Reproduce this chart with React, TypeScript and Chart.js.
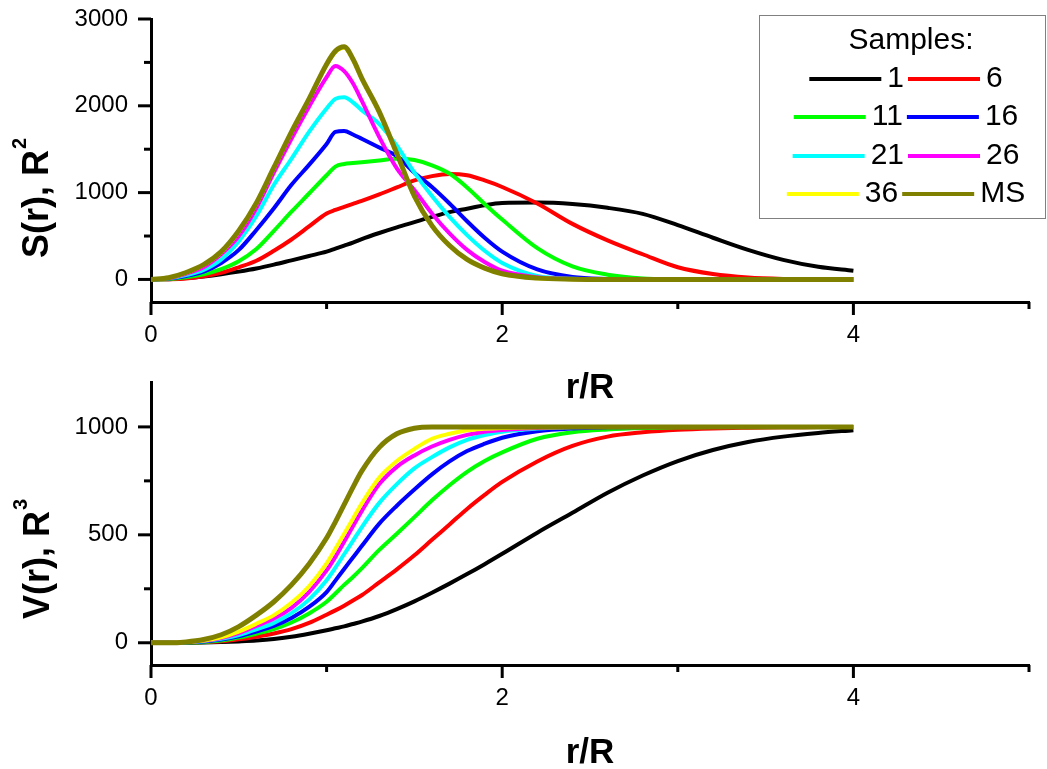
import React, { useEffect, useRef } from "react";
import { Chart, registerables } from "chart.js";

Chart.register(...registerables);

const FONT = '"Liberation Sans", Arial, sans-serif';

// r/R sample positions
const rGrid = [0, 0.1, 0.2, 0.3, 0.4, 0.5, 0.6, 0.7, 0.8, 0.9, 1.0, 1.05, 1.1, 1.15, 1.2, 1.3, 1.4, 1.5, 1.6, 1.7, 1.8, 1.9, 2.0, 2.2, 2.4, 2.6, 2.8, 3.0, 3.2, 3.4, 3.6, 3.8, 4.0];

const seriesLabels = ["1", "6", "11", "16", "21", "26", "36", "MS"];
const seriesColors = ["#000000", "#ff0000", "#00ff00", "#0000ff", "#00ffff", "#ff00ff", "#ffff00", "#808000"];

// S(r), R^2
const s1 = [0, 3, 15, 35, 60, 90, 125, 170, 220, 270, 320, 355, 390, 425, 465, 535, 600, 660, 720, 775, 815, 855, 880, 885, 868, 825, 755, 625, 480, 340, 225, 145, 100];
const s6 = [0, 3, 12, 35, 75, 140, 215, 330, 460, 610, 760, 800, 835, 870, 905, 980, 1060, 1140, 1190, 1215, 1200, 1140, 1065, 875, 640, 450, 290, 140, 62, 22, 6, 2, 0];
const s11 = [0, 6, 25, 60, 120, 210, 350, 560, 780, 990, 1200, 1300, 1330, 1340, 1350, 1370, 1390, 1375, 1315, 1220, 1060, 870, 690, 360, 150, 55, 12, 3, 0, 0, 0, 0, 0];
const s16 = [0, 10, 40, 90, 190, 340, 570, 820, 1090, 1320, 1560, 1700, 1710, 1670, 1620, 1520, 1420, 1230, 1065, 875, 670, 480, 320, 115, 28, 5, 0, 0, 0, 0, 0, 0, 0];
const s21 = [0, 12, 50, 110, 230, 440, 730, 1090, 1390, 1700, 1970, 2080, 2100, 2040, 1950, 1790, 1540, 1230, 960, 720, 510, 330, 190, 40, 8, 0, 0, 0, 0, 0, 0, 0, 0];
const s26 = [0, 15, 65, 140, 290, 500, 820, 1230, 1620, 1990, 2330, 2460, 2400, 2260, 2060, 1640, 1280, 1030, 760, 530, 340, 200, 100, 25, 5, 0, 0, 0, 0, 0, 0, 0, 0];
const s36 = [0, 18, 76, 165, 312, 552, 872, 1282, 1692, 2072, 2470, 2620, 2670, 2530, 2312, 1922, 1442, 952, 614, 385, 226, 127, 63, 14, 3, 0, 0, 0, 0, 0, 0, 0, 0];
const sMS = [0, 20, 80, 170, 320, 560, 880, 1290, 1700, 2080, 2480, 2630, 2680, 2540, 2320, 1930, 1450, 960, 620, 390, 230, 130, 65, 15, 3, 0, 0, 0, 0, 0, 0, 0, 0];

// V(r), R^3
const v1 = [0, 0, 0, 1, 3, 6, 10, 17, 28, 42, 58, 67, 76, 87, 98, 124, 156, 192, 232, 274, 318, 364, 412, 510, 602, 695, 775, 842, 893, 930, 955, 972, 985];
const v6 = [0, 0, 1, 3, 7, 16, 28, 43, 63, 92, 130, 150, 172, 196, 220, 280, 340, 405, 477, 548, 620, 685, 745, 840, 912, 955, 975, 987, 993, 996, 998, 999, 1000];
const v11 = [0, 0, 1, 4, 11, 24, 42, 63, 94, 136, 190, 228, 268, 305, 345, 430, 505, 582, 660, 730, 792, 842, 882, 945, 975, 988, 995, 998, 1000, 1000, 1000, 1000, 1000];
const v16 = [0, 0, 2, 6, 15, 30, 52, 78, 115, 166, 235, 288, 342, 395, 448, 552, 635, 710, 780, 840, 888, 922, 950, 980, 993, 998, 1000, 1000, 1000, 1000, 1000, 1000, 1000];
const v21 = [0, 0, 2, 8, 18, 36, 62, 92, 137, 200, 290, 348, 410, 472, 535, 648, 735, 808, 860, 905, 940, 962, 978, 992, 998, 1000, 1000, 1000, 1000, 1000, 1000, 1000, 1000];
const v26 = [0, 0, 3, 9, 22, 45, 78, 112, 162, 235, 335, 398, 468, 540, 610, 735, 815, 868, 909, 940, 963, 978, 986, 995, 999, 1000, 1000, 1000, 1000, 1000, 1000, 1000, 1000];
const v36 = [0, 0, 3, 10, 25, 52, 88, 128, 185, 262, 368, 435, 505, 575, 645, 765, 842, 898, 945, 968, 984, 991, 995, 998, 1000, 1000, 1000, 1000, 1000, 1000, 1000, 1000, 1000];
const vMS = [0, 0, 4, 15, 37, 75, 128, 190, 268, 365, 485, 560, 640, 720, 795, 905, 968, 994, 1000, 1000, 1000, 1000, 1000, 1000, 1000, 1000, 1000, 1000, 1000, 1000, 1000, 1000, 1000];

const sSeries = [s1, s6, s11, s16, s21, s26, s36, sMS];
const vSeries = [v1, v6, v11, v16, v21, v26, v36, vMS];

// ticks
const xMajorTicks = [0, 2, 4];
const xMinorTicks = [1, 3, 5];
const sMajorTicks = [0, 1000, 2000, 3000];
const sMinorTicks = [500, 1500, 2500];
const vMajorTicks = [0, 500, 1000];
const vMinorTicks = [250, 750];

const xTitle = "r/R";
const sTitle = ["S(r), R", "2"];
const vTitle = ["V(r), R", "3"];
const legendTitle = "Samples:";

type PanelCfg = {
  series: number[][];
  yMin: number;
  yMax: number;
  yMajor: number[];
  yMinor: number[];
  yTitle: string[];
  yTitleX: number;
  yTitleStartY: number;
  height: number;
  areaTop: number;
  areaBottom: number;
  xTitlePadBottom: number;
  legend: boolean;
};

function buildChart(canvas: HTMLCanvasElement, cfg: PanelCfg) {
  const datasets = cfg.series.map((arr, i) => ({
    label: seriesLabels[i],
    data: arr.map((y, j) => ({ x: rGrid[j], y })),
    borderColor: seriesColors[i],
    backgroundColor: seriesColors[i],
    borderWidth: i === 7 ? 5 : 4,
    pointRadius: 0,
    fill: false,
    cubicInterpolationMode: "monotone" as const,
    order: 7 - i,
  }));

  const decorPlugin = {
    id: "decor" + (cfg.legend ? "Top" : "Bottom"),
    afterDraw(chart: any) {
      const ctx = chart.ctx as CanvasRenderingContext2D;
      const xs = chart.scales.x;
      const ys = chart.scales.y;
      ctx.save();
      ctx.strokeStyle = "#000";
      ctx.lineWidth = 3;
      ctx.lineCap = "butt";
      const tick = (vals: number[], len: number, horiz: boolean) => {
        vals.forEach((v) => {
          ctx.beginPath();
          if (horiz) {
            const px = xs.getPixelForValue(v);
            ctx.moveTo(px, xs.top);
            ctx.lineTo(px, xs.top + len);
          } else {
            const py = ys.getPixelForValue(v);
            ctx.moveTo(ys.right, py);
            ctx.lineTo(ys.right - len, py);
          }
          ctx.stroke();
        });
      };
      tick(xMajorTicks, 13, true);
      tick(xMinorTicks, 7, true);
      tick(cfg.yMajor, 13, false);
      tick(cfg.yMinor, 7, false);

      // y-axis title with superscript
      ctx.fillStyle = "#000";
      ctx.translate(cfg.yTitleX, cfg.yTitleStartY);
      ctx.rotate(-Math.PI / 2);
      ctx.textAlign = "left";
      ctx.textBaseline = "alphabetic";
      ctx.font = `bold 36px ${FONT}`;
      ctx.fillText(cfg.yTitle[0], 0, 0);
      const w = ctx.measureText(cfg.yTitle[0]).width;
      ctx.font = `bold 20px ${FONT}`;
      ctx.fillText(cfg.yTitle[1], w + 1, -22);
      ctx.restore();

      if (cfg.legend) {
        ctx.save();
        ctx.strokeStyle = "#808080";
        ctx.lineWidth = 1;
        ctx.strokeRect(759.5, 15.5, 286, 203);
        ctx.fillStyle = "#000";
        ctx.font = `30px ${FONT}`;
        ctx.textBaseline = "middle";
        ctx.textAlign = "center";
        ctx.fillText(legendTitle, 911, 41);
        ctx.textAlign = "left";
        const rowY = [79, 117, 156, 194];
        const lineLen = 72;
        for (let r = 0; r < 4; r++) {
          const a = r * 2;
          const b = a + 1;
          const wa = ctx.measureText(seriesLabels[a]).width;
          const wb = ctx.measureText(seriesLabels[b]).width;
          const total = lineLen + 6 + wa + 4 + lineLen + 6 + wb;
          let x = 906 - total / 2;
          const y = rowY[r];
          [a, b].forEach((k, idx) => {
            ctx.strokeStyle = seriesColors[k];
            ctx.lineWidth = 4;
            ctx.beginPath();
            ctx.moveTo(x, y);
            ctx.lineTo(x + lineLen, y);
            ctx.stroke();
            x += lineLen + 6;
            ctx.fillStyle = "#000";
            ctx.fillText(seriesLabels[k], x, y);
            x += (idx === 0 ? wa : wb) + 4;
          });
        }
        ctx.restore();
      }
    },
  };

  return new Chart(canvas, {
    type: "line",
    data: { datasets },
    options: {
      animation: false,
      responsive: false,
      devicePixelRatio: 1,
      events: [],
      layout: { padding: { left: 0, right: 1047 - 1029, top: cfg.areaTop, bottom: 0 } },
      plugins: { legend: { display: false }, tooltip: { enabled: false } },
      scales: {
        x: {
          type: "linear",
          min: 0,
          max: 5,
          grid: { display: false, drawTicks: false },
          border: { display: true, color: "#000", width: 3 },
          afterBuildTicks: (scale: any) => {
            scale.ticks = [...xMajorTicks, ...xMinorTicks].sort((p, q) => p - q).map((v) => ({ value: v }));
          },
          ticks: {
            autoSkip: false,
            maxRotation: 0,
            padding: 19,
            color: "#000",
            font: { family: FONT, size: 24 },
            callback: (v: any) => (xMajorTicks.includes(Number(v)) ? String(v) : ""),
          },
          title: {
            display: true,
            text: xTitle,
            color: "#000",
            font: { family: FONT, size: 35, weight: "bold" },
            padding: { top: 0, bottom: cfg.xTitlePadBottom },
          },
          afterFit: (scale: any) => {
            scale.height = cfg.height - cfg.areaBottom;
            scale.paddingLeft = 0;
            scale.paddingRight = 0;
          },
        },
        y: {
          type: "linear",
          min: cfg.yMin,
          max: cfg.yMax,
          grid: { display: false, drawTicks: false },
          border: { display: true, color: "#000", width: 3 },
          afterBuildTicks: (scale: any) => {
            scale.ticks = [...cfg.yMajor, ...cfg.yMinor].sort((p, q) => p - q).map((v) => ({ value: v }));
          },
          ticks: {
            autoSkip: false,
            padding: 23,
            color: "#000",
            font: { family: FONT, size: 24 },
            callback: (v: any) => (cfg.yMajor.includes(Number(v)) ? String(v) : ""),
          },
          afterFit: (scale: any) => {
            scale.width = 151;
            scale.paddingTop = 0;
            scale.paddingBottom = 0;
          },
        },
      },
    },
    plugins: [decorPlugin],
  } as any);
}

export default function App() {
  const topRef = useRef<HTMLCanvasElement>(null);
  const botRef = useRef<HTMLCanvasElement>(null);

  useEffect(() => {
    const top = buildChart(topRef.current!, {
      series: sSeries,
      yMin: -260,
      yMax: 3000,
      yMajor: sMajorTicks,
      yMinor: sMinorTicks,
      yTitle: sTitle,
      yTitleX: 48,
      yTitleStartY: 258,
      height: 410,
      areaTop: 19,
      areaBottom: 302,
      xTitlePadBottom: 1,
      legend: true,
    });
    const bot = buildChart(botRef.current!, {
      series: vSeries,
      yMin: -103,
      yMax: 1208,
      yMajor: vMajorTicks,
      yMinor: vMinorTicks,
      yTitle: vTitle,
      yTitleX: 49,
      yTitleStartY: 619 - 365,
      height: 404,
      areaTop: 17,
      areaBottom: 300,
      xTitlePadBottom: -5,
      legend: false,
    });
    return () => {
      top.destroy();
      bot.destroy();
    };
  }, []);

  return (
    <div style={{ position: "absolute", left: 0, top: 0, width: 1047, height: 769, overflow: "hidden", background: "#fff" }}>
      <canvas ref={topRef} width={1047} height={410} style={{ position: "absolute", left: 0, top: 0 }} />
      <canvas ref={botRef} width={1047} height={404} style={{ position: "absolute", left: 0, top: 365 }} />
    </div>
  );
}
